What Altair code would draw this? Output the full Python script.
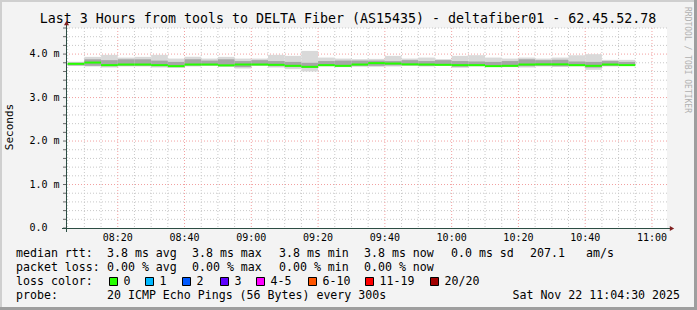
import altair as alt
import pandas as pd

# ---------------- data ----------------
step_times = ["08:05", "08:10", "08:15", "08:20", "08:25", "08:30", "08:35", "08:40",
              "08:45", "08:50", "08:55", "09:00", "09:05", "09:10", "09:15", "09:20",
              "09:25", "09:30", "09:35", "09:40", "09:45", "09:50", "09:55", "10:00",
              "10:05", "10:10", "10:15", "10:20", "10:25", "10:30", "10:35", "10:40",
              "10:45", "10:50"]
median_ms = [3.776, 3.805, 3.746, 3.760, 3.760, 3.746, 3.723, 3.760, 3.760, 3.741,
             3.760, 3.760, 3.753, 3.730, 3.707, 3.746, 3.730, 3.760, 3.792, 3.783,
             3.764, 3.760, 3.753, 3.746, 3.746, 3.723, 3.730, 3.760, 3.764, 3.764,
             3.746, 3.730, 3.760, 3.746]
smoke_max = [3.822, 3.936, 3.982, 3.920, 3.936, 3.982, 3.897, 3.936, 3.897, 3.936,
             3.897, 3.897, 3.982, 3.959, 4.073, 3.920, 3.897, 3.883, 3.890, 3.959,
             3.897, 3.920, 3.883, 3.959, 3.975, 3.920, 3.897, 3.920, 3.897, 3.920,
             3.975, 3.998, 3.867, 3.867]
smoke_min = [3.730, 3.714, 3.691, 3.714, 3.714, 3.691, 3.684, 3.714, 3.730, 3.707,
             3.668, 3.730, 3.691, 3.654, 3.600, 3.714, 3.700, 3.707, 3.707, 3.714,
             3.730, 3.714, 3.730, 3.684, 3.714, 3.707, 3.700, 3.691, 3.714, 3.707,
             3.714, 3.638, 3.714, 3.730]
core_hi = [3.80, 3.88, 3.86, 3.88, 3.88, 3.85, 3.82, 3.88, 3.85, 3.88,
           3.84, 3.86, 3.84, 3.82, 3.80, 3.84, 3.85, 3.85, 3.85, 3.84,
           3.86, 3.84, 3.86, 3.84, 3.83, 3.82, 3.84, 3.88, 3.86, 3.87,
           3.83, 3.82, 3.84, 3.82]
core_lo = [3.74, 3.73, 3.72, 3.73, 3.73, 3.72, 3.70, 3.73, 3.74, 3.72,
           3.70, 3.74, 3.72, 3.70, 3.68, 3.73, 3.71, 3.73, 3.73, 3.74,
           3.74, 3.73, 3.74, 3.71, 3.73, 3.72, 3.71, 3.72, 3.73, 3.72,
           3.73, 3.69, 3.73, 3.74]

x_tick_labels = ["08:20", "08:40", "09:00", "09:20", "09:40", "10:00", "10:20", "10:40", "11:00"]
y_tick_values = [0, 1, 2, 3, 4]
y_tick_labels = ["0.0", "1.0 m", "2.0 m", "3.0 m", "4.0 m"]

title_text = "Last 3 Hours from tools to DELTA Fiber (AS15435) - deltafiber01 - 62.45.52.78"
rtt_items = ["median rtt:", "3.8 ms avg", "3.8 ms max", "3.8 ms min", "3.8 ms now",
             "0.0 ms sd", "207.1", "am/s"]
loss_items = ["packet loss:", "0.00 % avg", "0.00 % max", "0.00 % min", "0.00 % now"]
line_lossc = "loss color:"
probe_items = ["probe:", "20 ICMP Echo Pings (56 Bytes) every 300s"]
date_text = "Sat Nov 22 11:04:30 2025"
watermark = "RRDTOOL / TOBI OETIKER"
loss_labels = ["0", "1", "2", "3", "4-5", "6-10", "11-19", "20/20"]
loss_colors = ["#26ff00", "#00b8ff", "#0059ff", "#5e00ff", "#ff00ff", "#ff5500", "#ff0000", "#a10000"]

# ---------------- layout ----------------
LEFT, TOP, W, H = 66, 28, 601, 200
FULL_W, FULL_H = 697, 310
FONT = "DejaVu Sans Mono"
LEG_SIZE = 11.6
rtt_x = [16, 107, 192, 279, 364, 451, 530, 586]
loss_x = [16, 107, 192, 279, 364]
probe_x = [16, 107]
legend_sq_x = [109, 145, 182, 220, 256, 308, 365, 430]


def tomin(s):
    h, m = s.split(":")
    return int(h) * 60 + int(m)


def nb(s):
    return s.replace(" ", "\u00a0")


t0 = [tomin(s) for s in step_times]
df = pd.DataFrame({
    "t0": t0, "t1": [t + 5 for t in t0],
    "median": median_ms, "smax": smoke_max, "smin": smoke_min,
    "chi": core_hi, "clo": core_lo,
})

x_start = tomin("08:04") + 0.5
x_end = x_start + 180
xscale = alt.Scale(domain=[x_start, x_end], nice=False, zero=False)
yscale = alt.Scale(domain=[0, 4.6], nice=False, zero=False)

# grid positions (go through the scales)
x_all = list(range(tomin("08:05"), tomin("11:00") + 1, 5))
x_major = [tomin(s) for s in x_tick_labels]
x_minor = [m for m in x_all if m not in x_major]
y_all = [round(0.2 * i, 1) for i in range(1, 24)]
y_major = [v for v in y_tick_values if v > 0]
y_minor = [v for v in y_all if abs(v - round(v)) > 1e-6]

grid_red = "#f2a0a0"
grid_gray = "#c8c8c8"
X = lambda f: alt.X(f, scale=xscale, axis=None)
Y = lambda f: alt.Y(f, scale=yscale, axis=None)

gx_minor = alt.Chart(pd.DataFrame({"v": x_minor})).mark_rule(
    color=grid_gray, strokeDash=[1, 2], strokeWidth=1).encode(x=X("v:Q"), y=alt.value(0), y2=alt.value(H))
gx_major = alt.Chart(pd.DataFrame({"v": x_major})).mark_rule(
    color=grid_red, strokeDash=[1, 2], strokeWidth=1).encode(x=X("v:Q"), y=alt.value(0), y2=alt.value(H))
gy_minor = alt.Chart(pd.DataFrame({"v": y_minor})).mark_rule(
    color=grid_gray, strokeDash=[1, 2], strokeWidth=1).encode(y=Y("v:Q"), x=alt.value(0), x2=alt.value(W))
gy_major = alt.Chart(pd.DataFrame({"v": y_major})).mark_rule(
    color=grid_red, strokeDash=[1, 2], strokeWidth=1).encode(y=Y("v:Q"), x=alt.value(0), x2=alt.value(W))
y_ticks = alt.Chart(pd.DataFrame({"v": [0.0] + y_all})).mark_rule(
    color="#666666", strokeWidth=1).encode(y=Y("v:Q"), x=alt.value(-3), x2=alt.value(0.5))

xlab = alt.Chart(pd.DataFrame({"v": x_major, "t": x_tick_labels})).mark_text(
    font=FONT, fontSize=10, align="center", baseline="middle", color="#000000").encode(
    x=X("v:Q"), y=alt.value(H + 9.5), text="t:N")
ylab = alt.Chart(pd.DataFrame({"v": y_tick_values, "t": [nb(s) for s in y_tick_labels]})).mark_text(
    font=FONT, fontSize=10, align="left", baseline="middle", color="#000000").encode(
    y=Y("v:Q"), x=alt.value(30 - LEFT - 0.5), text="t:N")

base = alt.Chart(df)
outer = base.mark_rect(color="#d9d9d9").encode(x=X("t0:Q"), x2="t1", y=Y("smax:Q"), y2="smin")
core = base.mark_rect(color="#a6a6a6").encode(x=X("t0:Q"), x2="t1", y=Y("chi:Q"), y2="clo")
med = base.mark_rule(color=loss_colors[0], strokeWidth=2).encode(x=X("t0:Q"), x2="t1", y=Y("median:Q"))

one = pd.DataFrame({"a": [0]})
AX = "#2c4d43"
ARROW = "#7f1f1f"
yline = alt.Chart(one).mark_rule(color=AX, strokeWidth=1).encode(
    x=alt.value(0.5), y=alt.value(H + 4), y2=alt.value(-4))
xline = alt.Chart(one).mark_rule(color=AX, strokeWidth=1).encode(
    x=alt.value(-4), x2=alt.value(W + 5), y=alt.value(H + 0.5))
arrow_up = alt.Chart(one).mark_point(shape="triangle-up", filled=True, color=ARROW, size=25, opacity=1).encode(
    x=alt.value(0.5), y=alt.value(-5))
arrow_right = alt.Chart(one).mark_point(shape="triangle-right", filled=True, color=ARROW, size=25, opacity=1).encode(
    x=alt.value(W + 5), y=alt.value(H + 0.5))


def txt(s, x, y, size=LEG_SIZE, align="left", angle=0, color="#000000"):
    return alt.Chart(one).mark_text(
        text=nb(s), font=FONT, fontSize=size, align=align, baseline="middle",
        angle=angle, color=color).encode(x=alt.value(x), y=alt.value(y))


texts = [
    txt(title_text, 348 - LEFT, 19 - TOP, size=13.3, align="center"),
    txt("Seconds", 10 - LEFT, 127 - TOP, size=11, align="center", angle=270),
    txt(line_lossc, 16 - LEFT, 282 - TOP),
    txt(date_text, 680 - LEFT, 296 - TOP, align="right"),
    txt(watermark, 687 - LEFT, 60 - TOP, size=8, align="center", angle=90, color="#b0b0b0"),
]
for s, x in zip(rtt_items, rtt_x):
    texts.append(txt(s, x - LEFT, 254 - TOP))
for s, x in zip(loss_items, loss_x):
    texts.append(txt(s, x - LEFT, 268 - TOP))
for s, x in zip(probe_items, probe_x):
    texts.append(txt(s, x - LEFT, 296 - TOP))

legend_marks = []
for sx, lab, col in zip(legend_sq_x, loss_labels, loss_colors):
    legend_marks.append(alt.Chart(one).mark_rect(fill=col, stroke="#000000", strokeWidth=1).encode(
        x=alt.value(sx - LEFT + 0.5), x2=alt.value(sx - LEFT + 8.5),
        y=alt.value(282 - TOP - 4.5), y2=alt.value(282 - TOP + 3.5)))
    legend_marks.append(txt(lab, sx - LEFT + 14.5, 282 - TOP))

# frame shading
frame = [
    alt.Chart(one).mark_rule(color="#cfcfcf", strokeWidth=2).encode(
        x=alt.value(-LEFT), x2=alt.value(FULL_W - LEFT), y=alt.value(-TOP + 1)),
    alt.Chart(one).mark_rule(color="#cfcfcf", strokeWidth=2).encode(
        x=alt.value(-LEFT + 1), y=alt.value(-TOP), y2=alt.value(FULL_H - TOP)),
    alt.Chart(one).mark_rule(color="#9e9e9e", strokeWidth=3).encode(
        x=alt.value(-LEFT), x2=alt.value(FULL_W - LEFT), y=alt.value(FULL_H - TOP - 1.5)),
    alt.Chart(one).mark_rule(color="#9e9e9e", strokeWidth=3).encode(
        x=alt.value(FULL_W - LEFT - 1.5), y=alt.value(-TOP), y2=alt.value(FULL_H - TOP)),
]

chart = alt.layer(
    gx_minor, gy_minor, gx_major, gy_major, outer, core, med, y_ticks,
    yline, xline, arrow_up, arrow_right, xlab, ylab, *texts, *legend_marks, *frame
).properties(
    width=W, height=H,
    padding={"left": LEFT, "top": TOP, "right": FULL_W - LEFT - W, "bottom": FULL_H - TOP - H},
    autosize=alt.AutoSizeParams(type="none"),
    background="#f3f3f3",
).configure_view(fill="#ffffff", stroke=None)

chart.save("out.html", embed_options={"renderer": "svg", "actions": False})
